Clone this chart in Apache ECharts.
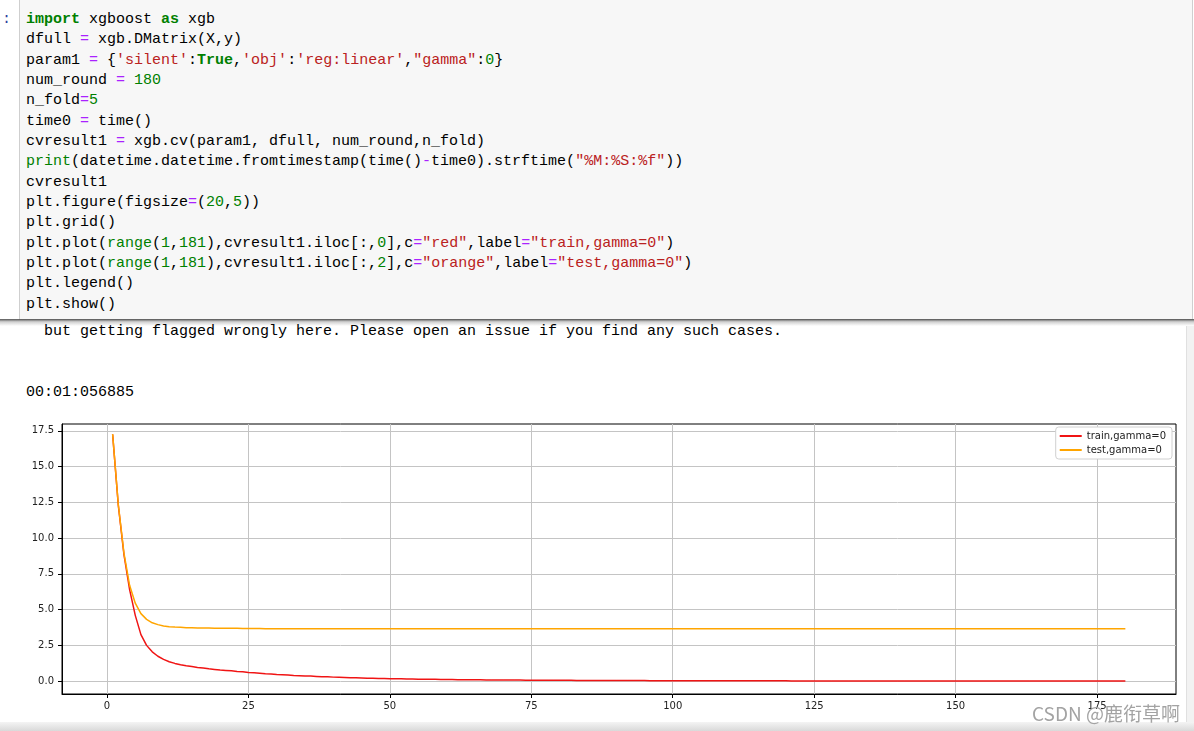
<!DOCTYPE html>
<html>
<head>
<meta charset="utf-8">
<script src="https://cdn.jsdelivr.net/npm/echarts@6/dist/echarts.min.js"></script>
<style>
  html, body { margin:0; padding:0; background:#fff; width:1194px; height:731px; overflow:hidden; position:relative; }
  .mono { font-family:"Liberation Mono", monospace; font-size:15px; line-height:20.35px; white-space:pre; color:#000; }
  #cell { position:absolute; left:19px; top:-1px; width:1174px; height:321px; background:#f7f7f7; border:1px solid #cfcfcf; box-sizing:border-box; }
  #shadow { position:absolute; left:0; top:319px; width:1194px; height:7px; background:linear-gradient(#555, rgba(120,120,120,0.35) 40%, rgba(255,255,255,0)); }
  #code { position:absolute; left:26px; top:10px; }
  #prompt { position:absolute; left:2px; top:10px; color:#303F9F; }
  .k { color:#008000; font-weight:bold; }
  .o { color:#AA22FF; }
  .s { color:#BA2121; }
  .n { color:#008000; }
  .b { color:#008000; }
  #out1 { position:absolute; left:26px; top:322px; }
  #out2 { position:absolute; left:26px; top:383px; }
  #chart { position:absolute; left:0; top:410px; width:1194px; height:312px; }
  #rstrip { position:absolute; left:1186px; top:326px; width:8px; height:398px; background:#f2f2f2; border-left:1px solid #e0e0e0; }
  #bstrip { position:absolute; left:0; top:722px; width:1194px; height:9px; background:linear-gradient(#f4f4f4, #d9d9d9); }
  #wm { position:absolute; right:14px; top:699px; font-family:"Noto Sans CJK SC", sans-serif; font-size:19px; color:#a3a3a3; white-space:nowrap; }
</style>
</head>
<body>
<div id="cell"></div>
<div id="prompt" class="mono">:</div>
<div id="code" class="mono"><span class="k">import</span> xgboost <span class="k">as</span> xgb
dfull <span class="o">=</span> xgb.DMatrix(X,y)
param1 <span class="o">=</span> {<span class="s">'silent'</span>:<span class="k">True</span>,<span class="s">'obj'</span>:<span class="s">'reg:linear'</span>,<span class="s">"gamma"</span>:<span class="n">0</span>}
num_round <span class="o">=</span> <span class="n">180</span>
n_fold<span class="o">=</span><span class="n">5</span>
time0 <span class="o">=</span> time()
cvresult1 <span class="o">=</span> xgb.cv(param1, dfull, num_round,n_fold)
<span class="b">print</span>(datetime.datetime.fromtimestamp(time()<span class="o">-</span>time0).strftime(<span class="s">"%M:%S:%f"</span>))
cvresult1
plt.figure(figsize<span class="o">=</span>(<span class="n">20</span>,<span class="n">5</span>))
plt.grid()
plt.plot(<span class="b">range</span>(<span class="n">1</span>,<span class="n">181</span>),cvresult1.iloc[:,<span class="n">0</span>],c<span class="o">=</span><span class="s">"red"</span>,label<span class="o">=</span><span class="s">"train,gamma=0"</span>)
plt.plot(<span class="b">range</span>(<span class="n">1</span>,<span class="n">181</span>),cvresult1.iloc[:,<span class="n">2</span>],c<span class="o">=</span><span class="s">"orange"</span>,label<span class="o">=</span><span class="s">"test,gamma=0"</span>)
plt.legend()
plt.show()</div>
<div id="shadow"></div>
<div id="out1" class="mono">  but getting flagged wrongly here. Please open an issue if you find any such cases.</div>
<div id="out2" class="mono">00:01:056885</div>
<div id="rstrip"></div>
<div id="bstrip"></div>
<div id="chart"></div>
<div id="wm">CSDN @鹿衔草啊</div>
<script>
// x positions: range(1, 181)
const rounds = Array.from({length: 180}, (_, i) => i + 1);

// train rmse (cvresult1.iloc[:,0])
const trainRmse = [
  17.25, 12.30, 8.85, 6.40, 4.60, 3.25, 2.50, 2.05, 1.74, 1.52,
  1.36, 1.24, 1.15, 1.08, 1.02, 0.96, 0.91, 0.86, 0.82, 0.78,
  0.75, 0.72, 0.68, 0.65, 0.61, 0.58, 0.55, 0.52, 0.50, 0.47,
  0.45, 0.43, 0.40, 0.38, 0.36, 0.35, 0.33, 0.31, 0.30, 0.28,
  0.27, 0.26, 0.24, 0.23, 0.22, 0.21, 0.20, 0.19, 0.18, 0.17,
  0.165, 0.16, 0.15, 0.145, 0.14, 0.135, 0.13, 0.125, 0.12, 0.115,
  0.11, 0.105, 0.10, 0.097, 0.094, 0.09, 0.087, 0.084, 0.081, 0.078,
  0.076, 0.074, 0.072, 0.07, 0.068, 0.066, 0.064, 0.062, 0.06, 0.058,
  0.056, 0.054, 0.052, 0.05, 0.049, 0.047, 0.046, 0.044, 0.043, 0.041,
  0.040, 0.039, 0.038, 0.037, 0.036, 0.035, 0.034, 0.033, 0.032, 0.031,
  0.030, 0.029, 0.028, 0.028, 0.027, 0.026, 0.025, 0.025, 0.024, 0.023,
  0.023, 0.022, 0.021, 0.021, 0.020, 0.020, 0.019, 0.019, 0.018, 0.018,
  0.017, 0.017, 0.016, 0.016, 0.016, 0.015, 0.015, 0.014, 0.014, 0.014,
  0.013, 0.013, 0.013, 0.012, 0.012, 0.012, 0.011, 0.011, 0.011, 0.011,
  0.010, 0.010, 0.010, 0.010, 0.009, 0.009, 0.009, 0.009, 0.009, 0.008,
  0.008, 0.008, 0.008, 0.008, 0.008, 0.007, 0.007, 0.007, 0.007, 0.007,
  0.007, 0.007, 0.006, 0.006, 0.006, 0.006, 0.006, 0.006, 0.006, 0.006,
  0.006, 0.005, 0.005, 0.005, 0.005, 0.005, 0.005, 0.005, 0.005, 0.005
];

// test rmse (cvresult1.iloc[:,2])
const testRmse = [
  17.27, 12.35, 8.95, 6.70, 5.45, 4.72, 4.32, 4.08, 3.95, 3.86,
  3.81, 3.78, 3.76, 3.74, 3.73, 3.72, 3.71, 3.71, 3.70, 3.70,
  3.69, 3.69, 3.69, 3.68, 3.68, 3.68, 3.68, 3.67, 3.67, 3.67,
  3.67, 3.67, 3.67, 3.67, 3.66, 3.66, 3.66, 3.66, 3.66, 3.66,
  3.66, 3.66, 3.66, 3.66, 3.66, 3.66, 3.66, 3.66, 3.66, 3.66,
  3.66, 3.66, 3.66, 3.66, 3.66, 3.66, 3.66, 3.66, 3.66, 3.66,
  3.66, 3.66, 3.66, 3.66, 3.66, 3.66, 3.66, 3.66, 3.66, 3.66,
  3.66, 3.66, 3.66, 3.66, 3.66, 3.66, 3.66, 3.66, 3.66, 3.66,
  3.66, 3.66, 3.66, 3.66, 3.66, 3.66, 3.66, 3.66, 3.66, 3.66,
  3.66, 3.66, 3.66, 3.66, 3.66, 3.66, 3.66, 3.66, 3.66, 3.66,
  3.66, 3.66, 3.66, 3.66, 3.66, 3.66, 3.66, 3.66, 3.66, 3.66,
  3.66, 3.66, 3.66, 3.66, 3.66, 3.66, 3.66, 3.66, 3.66, 3.66,
  3.66, 3.66, 3.66, 3.66, 3.66, 3.66, 3.66, 3.66, 3.66, 3.66,
  3.66, 3.66, 3.66, 3.66, 3.66, 3.66, 3.66, 3.66, 3.66, 3.66,
  3.66, 3.66, 3.66, 3.66, 3.66, 3.66, 3.66, 3.66, 3.66, 3.66,
  3.66, 3.66, 3.66, 3.66, 3.66, 3.66, 3.66, 3.66, 3.66, 3.66,
  3.66, 3.66, 3.66, 3.66, 3.66, 3.66, 3.66, 3.66, 3.66, 3.66,
  3.66, 3.66, 3.66, 3.66, 3.66, 3.66, 3.66, 3.66, 3.66, 3.66
];

const seriesNames = ['train,gamma=0', 'test,gamma=0'];
const xTicks = [0, 25, 50, 75, 100, 125, 150, 175];
const yTicks = [0, 2.5, 5, 7.5, 10, 12.5, 15, 17.5];

const chart = echarts.init(document.getElementById('chart'));
const axisFont = { fontFamily: 'DejaVu Sans', fontSize: 10, color: '#222' };
chart.setOption({
  animation: false,
  grid: { left: 62, top: 14, width: 1114, height: 270, show: true, borderColor: '#000', borderWidth: 1, backgroundColor: 'transparent' },
  xAxis: {
    type: 'value', min: -7.95, max: 188.95,
    axisLine: { show: true, onZero: false, lineStyle: { color: '#000', width: 1 } },
    axisTick: { show: true, length: 4, customValues: xTicks, lineStyle: { color: '#000' } },
    axisLabel: Object.assign({ customValues: xTicks, margin: 7, formatter: v => String(v) }, axisFont),
    splitLine: { show: true, lineStyle: { color: '#c4c4c4', width: 1 } }
  },
  yAxis: {
    type: 'value', min: -0.9, max: 17.98,
    axisLine: { show: true, onZero: false, lineStyle: { color: '#000', width: 1 } },
    axisTick: { show: true, length: 4, customValues: yTicks, lineStyle: { color: '#000' } },
    axisLabel: Object.assign({ customValues: yTicks, margin: 8, formatter: v => v.toFixed(1) }, axisFont),
    splitLine: { show: true, lineStyle: { color: '#c4c4c4', width: 1 } }
  },
  legend: {
    data: seriesNames, orient: 'vertical', right: 22, top: 17,
    icon: 'rect', itemWidth: 22, itemHeight: 2, itemGap: 0, itemTextGap: 8,
    padding: [2, 6, 2, 4],
    borderColor: '#d0d0d0', borderWidth: 1, borderRadius: 3, backgroundColor: '#fff',
    textStyle: { fontFamily: 'DejaVu Sans', fontSize: 10, color: '#222', lineHeight: 14 }
  },
  series: [
    { name: seriesNames[0], type: 'line', symbol: 'none', data: rounds.map((r, i) => [r, trainRmse[i]]), lineStyle: { color: '#f01414', width: 1.5 }, itemStyle: { color: '#f01414' } },
    { name: seriesNames[1], type: 'line', symbol: 'none', data: rounds.map((r, i) => [r, testRmse[i]]), lineStyle: { color: '#ffa500', width: 1.5 }, itemStyle: { color: '#ffa500' } }
  ]
});
</script>
</body>
</html>
